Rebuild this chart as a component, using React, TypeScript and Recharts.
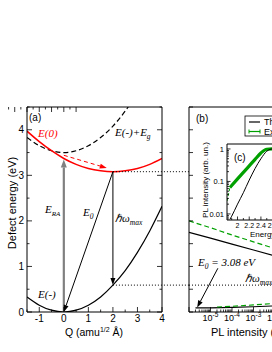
import React from 'react';
import { LineChart, Line, XAxis, YAxis, ReferenceLine } from 'recharts';

// (a) configuration coordinate diagram
const qValues = [-1.5, -1, -0.5, 0, 0.5, 1, 1.5, 2, 2.5, 3, 3.5, 4];
const groundCurve = [0.33, 0.15, 0.04, 0, 0.04, 0.15, 0.33, 0.59, 0.91, 1.31, 1.78, 2.32];
const excitedCurve = [3.97, 3.74, 3.54, 3.37, 3.24, 3.15, 3.1, 3.08, 3.1, 3.15, 3.24, 3.37];
const gapCurve = [3.83, 3.65, 3.54, 3.5, 3.54, 3.65, 3.83, 4.08, 4.41, 4.81, 5.28, 5.82];
const qTicks = [-1.5, -1, -0.5, 0, 0.5, 1, 1.5, 2, 2.5, 3, 3.5, 4];
const energyTicks = [0, 0.5, 1, 1.5, 2, 2.5, 3, 3.5, 4, 4.5];

const qShift = 2;
const e0 = 3.08;
const hwMax = 0.59;
const eRaTop = 3.35;
const relaxFrom = { q: 0, e: 3.44 };
const relaxTo = { q: 1.75, e: 3.16 };
const gapEdgeQ = 5.1; // where the dotted guides meet panel (b)

// (b) energy vs PL intensity
const plUpper = [1e-6, 1e-5, 1e-4, 1e-3, 1e-2, 1e-1, 1];
const theoryUpper = [1.75, 1.62, 1.49, 1.36, 1.23, 1.1, 0.97];
const expUpper = [2.0, 1.85, 1.69, 1.54, 1.39, 1.23, 1.07];
const plTheoryLower = [2e-6, 1e-5, 1e-4, 1e-3, 1e-2, 1e-1, 1];
const theoryLower = [0.09, 0.09, 0.1, 0.115, 0.135, 0.16, 0.19];
const plExpLower = [2e-5, 1e-4, 1e-3, 1e-2, 1e-1, 1];
const expLower = [0.11, 0.125, 0.155, 0.19, 0.23, 0.28];
const e0ArrowFrom = { pl: 2.2e-5, e: 0.96 };
const e0ArrowTo = { pl: 2.4e-6, e: 0.1 };

// (c) inset spectra
const insetTheoryE = [1.87, 1.9, 2.0, 2.1, 2.2, 2.3, 2.4, 2.5, 2.6, 2.7];
const insetTheory = [0.0068, 0.0085, 0.02, 0.045, 0.11, 0.25, 0.5, 0.85, 1.0, 0.95];
const insetExpE = [1.87, 1.9, 2.0, 2.1, 2.2, 2.3, 2.4, 2.5, 2.6, 2.7];
const insetExp = [0.065, 0.075, 0.12, 0.19, 0.3, 0.48, 0.75, 0.98, 1.0, 0.9];
const insetTailE = [1.82, 1.87];
const insetTail = [0.025, 0.065];
const insetETicks = [1.9, 2.0, 2.1, 2.2, 2.3, 2.4, 2.5, 2.6, 2.7, 2.8, 2.9];

const SANS = 'Liberation Sans, Arial, sans-serif';
const SERIF = 'Liberation Serif, Times New Roman, serif';
const GREEN = '#00a000';

const curveData = qValues.map((q, i) => ({ q, lo: groundCurve[i], hi: excitedCurve[i], gap: gapCurve[i] }));
const toPts = (xs: number[], ys: number[], k: string) => xs.map((x, i) => ({ [k]: x, e: ys[i] }));

const logTicks = (from: number, to: number, lo: number, hi: number) => {
  const t: number[] = [];
  for (let d = from; d < to; d++) for (let m = 1; m < 10; m++) t.push(m * Math.pow(10, d));
  t.push(Math.pow(10, to));
  return t.filter((v) => v >= lo * 0.999 && v <= hi * 1.001);
};
const isPow10 = (v: number) => Math.abs(Math.log10(v) - Math.round(Math.log10(v))) < 1e-6;
const isInt = (v: number) => Math.abs(v - Math.round(v)) < 1e-6;

type Side = 'bottom' | 'left' | 'top' | 'right';
const frameTick = (side: Side, isMajor: (v: number) => boolean, label?: (v: number) => React.ReactNode, size = 9.5, major = 5, minor = 2.5) =>
  (props: any) => {
    const { x, y, payload } = props;
    const v = payload.value as number;
    const len = isMajor(v) ? major : minor;
    const end: Record<Side, number[]> = { bottom: [x, y - len], top: [x, y + len], left: [x + len, y], right: [x - len, y] };
    const text = label && isMajor(v) ? label(v) : null;
    return (
      <g>
        <line x1={x} y1={y} x2={end[side][0]} y2={end[side][1]} stroke="#000" strokeWidth={0.8} />
        {text !== null && side === 'bottom' && (
          <text x={x} y={y + 3} dy="0.71em" textAnchor="middle" fontSize={size} fontFamily={SANS} fill="#000">{text}</text>
        )}
        {text !== null && side === 'left' && (
          <text x={x - 3} y={y} dy="0.35em" textAnchor="end" fontSize={size} fontFamily={SANS} fill="#000">{text}</text>
        )}
      </g>
    );
  };

const powLabel = (v: number) => {
  const p = Math.round(Math.log10(v));
  if (p === 0) return '1';
  return (
    <>
      10<tspan dy={-4} fontSize={6.5}>{p}</tspan>
    </>
  );
};

const arrow = (color: string, width: number, dash?: string, head = 7, half = 2.5) => (p: any) => {
  const x1 = Number(p.x1), y1 = Number(p.y1), x2 = Number(p.x2), y2 = Number(p.y2);
  const len = Math.hypot(x2 - x1, y2 - y1) || 1;
  const ux = (x2 - x1) / len, uy = (y2 - y1) / len;
  const bx = x2 - ux * head, by = y2 - uy * head;
  const pts = `${x2},${y2} ${bx - uy * half},${by + ux * half} ${bx + uy * half},${by - ux * half}`;
  return (
    <g>
      <line x1={x1} y1={y1} x2={bx} y2={by} stroke={color} strokeWidth={width} strokeDasharray={dash} />
      <polygon points={pts} fill={color} />
    </g>
  );
};

const dotted = (p: any) => (
  <line x1={p.x1} y1={p.y1} x2={p.x2} y2={p.y2} stroke="#000" strokeWidth={1} strokeDasharray="1 2" />
);

const axisLine = { stroke: '#000', strokeWidth: 1 };

const PanelA = () => (
  <LineChart width={190} height={262} data={curveData} margin={{ top: 16, right: 27, bottom: 0, left: 0 }}>
    <XAxis xAxisId="b" dataKey="q" type="number" domain={[-1.5, 4]} ticks={qTicks} interval={0} allowDataOverflow
      height={40} tickSize={0} tickMargin={0} tickLine={false} axisLine={axisLine}
      tick={frameTick('bottom', isInt, (v) => String(v), 10)} />
    <XAxis xAxisId="t" orientation="top" type="number" domain={[-1.5, 4]} ticks={qTicks} interval={0} allowDataOverflow
      height={1} tickSize={0} tickMargin={0} tickLine={false} axisLine={axisLine} tick={frameTick('top', isInt)} />
    <YAxis yAxisId="l" type="number" domain={[0, 4.5]} ticks={energyTicks} interval={0} allowDataOverflow
      width={27} tickSize={0} tickMargin={0} tickLine={false} axisLine={axisLine}
      tick={frameTick('left', isInt, (v) => String(v), 10)} />
    <YAxis yAxisId="r" orientation="right" type="number" domain={[0, 4.5]} ticks={energyTicks} interval={0} allowDataOverflow
      width={1} tickSize={0} tickMargin={0} tickLine={false} axisLine={axisLine} tick={frameTick('right', isInt)} />
    <Line xAxisId="b" yAxisId="l" dataKey="lo" type="natural" stroke="#000" strokeWidth={1.2} dot={false} isAnimationActive={false} />
    <Line xAxisId="b" yAxisId="l" dataKey="gap" type="natural" stroke="#000" strokeWidth={1.2} strokeDasharray="5 3" dot={false} isAnimationActive={false} />
    <Line xAxisId="b" yAxisId="l" dataKey="hi" type="natural" stroke="#ff0000" strokeWidth={1.5} dot={false} isAnimationActive={false} />
    <ReferenceLine xAxisId="b" yAxisId="l" ifOverflow="visible" segment={[{ x: qShift, y: e0 }, { x: gapEdgeQ, y: e0 }]} shape={dotted} />
    <ReferenceLine xAxisId="b" yAxisId="l" ifOverflow="visible" segment={[{ x: qShift, y: hwMax }, { x: gapEdgeQ, y: hwMax }]} shape={dotted} />
    <ReferenceLine xAxisId="b" yAxisId="l" segment={[{ x: 0, y: 0 }, { x: 0, y: eRaTop }]} shape={arrow('#808080', 2.2, undefined, 8, 3)} />
    <ReferenceLine xAxisId="b" yAxisId="l" segment={[{ x: qShift, y: e0 }, { x: 0, y: 0 }]} shape={arrow('#000', 1)} />
    <ReferenceLine xAxisId="b" yAxisId="l" segment={[{ x: qShift, y: e0 }, { x: qShift, y: hwMax }]} shape={arrow('#000', 1)} />
    <ReferenceLine xAxisId="b" yAxisId="l" segment={[{ x: relaxFrom.q, y: relaxFrom.e }, { x: relaxTo.q, y: relaxTo.e }]} shape={arrow('#ff0000', 1, '4 3')} />
  </LineChart>
);

const plTicks = logTicks(-6, 0, 1e-6, 1);

const PanelB = () => (
  <LineChart width={170} height={262} margin={{ top: 16, right: 11, bottom: 0, left: 0 }}>
    <XAxis xAxisId="b" dataKey="pl" type="number" scale="log" domain={[1e-6, 1]} ticks={plTicks} interval={0} allowDataOverflow
      height={40} tickSize={0} tickMargin={0} tickLine={false} axisLine={axisLine}
      tick={frameTick('bottom', isPow10, (v) => (v > 1.5e-6 ? powLabel(v) : null), 9)} />
    <XAxis xAxisId="t" orientation="top" type="number" scale="log" domain={[1e-6, 1]} ticks={plTicks} interval={0} allowDataOverflow
      height={1} tickSize={0} tickMargin={0} tickLine={false} axisLine={axisLine} tick={frameTick('top', isPow10)} />
    <YAxis yAxisId="l" type="number" domain={[0, 4.5]} ticks={energyTicks} interval={0} allowDataOverflow
      width={29} tickSize={0} tickMargin={0} tickLine={false} axisLine={axisLine} tick={frameTick('left', () => true, undefined, 9, 4)} />
    <YAxis yAxisId="r" orientation="right" type="number" domain={[0, 4.5]} ticks={energyTicks} interval={0} allowDataOverflow
      width={1} tickSize={0} tickMargin={0} tickLine={false} axisLine={axisLine} tick={frameTick('right', () => true, undefined, 9, 4)} />
    <ReferenceLine xAxisId="b" yAxisId="l" y={hwMax} shape={dotted} />
    <Line xAxisId="b" yAxisId="l" data={toPts(plUpper, theoryUpper, 'pl')} dataKey="e" stroke="#000" strokeWidth={1.2} dot={false} isAnimationActive={false} />
    <Line xAxisId="b" yAxisId="l" data={toPts(plUpper, expUpper, 'pl')} dataKey="e" stroke={GREEN} strokeWidth={1.2} strokeDasharray="5 3" dot={false} isAnimationActive={false} />
    <Line xAxisId="b" yAxisId="l" data={toPts(plTheoryLower, theoryLower, 'pl')} dataKey="e" stroke="#000" strokeWidth={1.2} dot={false} isAnimationActive={false} />
    <Line xAxisId="b" yAxisId="l" data={toPts(plExpLower, expLower, 'pl')} dataKey="e" stroke={GREEN} strokeWidth={1.2} strokeDasharray="5 3" dot={false} isAnimationActive={false} />
    <ReferenceLine xAxisId="b" yAxisId="l" segment={[{ x: e0ArrowFrom.pl, y: e0ArrowFrom.e }, { x: e0ArrowTo.pl, y: e0ArrowTo.e }]} shape={arrow('#000', 1)} />
  </LineChart>
);

const insetYTicks = logTicks(-3, 0, 0.0065, 1.42);
const decLabel = (v: number) => (v >= 1 ? '1' : v >= 0.1 ? '0.1' : '0.01');
const isEMajor = (v: number) => Math.abs(v * 5 - Math.round(v * 5)) < 1e-6;

const InsetC = () => (
  <LineChart width={110} height={105} margin={{ top: 4, right: 14, bottom: 0, left: 0 }}>
    <XAxis xAxisId="b" dataKey="en" type="number" domain={[1.82, 3.0]} ticks={insetETicks} interval={0} allowDataOverflow
      height={24} tickSize={0} tickMargin={0} tickLine={false} axisLine={axisLine}
      tick={frameTick('bottom', isEMajor, (v) => (isInt(v) ? String(v) : v.toFixed(1)), 7, 3.5, 2)} />
    <XAxis xAxisId="t" orientation="top" type="number" domain={[1.82, 3.0]} ticks={insetETicks} interval={0} allowDataOverflow
      height={1} tickSize={0} tickMargin={0} tickLine={false} axisLine={axisLine} tick={frameTick('top', isEMajor, undefined, 7, 3.5, 2)} />
    <YAxis yAxisId="l" type="number" scale="log" domain={[0.0065, 1.42]} ticks={insetYTicks} interval={0} allowDataOverflow
      width={27} tickSize={0} tickMargin={0} tickLine={false} axisLine={axisLine}
      tick={frameTick('left', isPow10, decLabel, 7.5, 3.5, 2)} />
    <Line xAxisId="b" yAxisId="l" data={toPts(insetTailE, insetTail, 'en')} dataKey="e" stroke={GREEN} strokeWidth={1} strokeDasharray="3 2" dot={false} isAnimationActive={false} />
    <Line xAxisId="b" yAxisId="l" data={toPts(insetExpE, insetExp, 'en')} dataKey="e" type="monotone" stroke={GREEN} strokeWidth={3.2} dot={false} isAnimationActive={false} />
    <Line xAxisId="b" yAxisId="l" data={toPts(insetTheoryE, insetTheory, 'en')} dataKey="e" type="monotone" stroke="#000" strokeWidth={1} dot={false} isAnimationActive={false} />
  </LineChart>
);

const Sub = ({ children, size = 7.5 }: { children: React.ReactNode; size?: number }) => (
  <tspan dy={3} fontSize={size}>{children}</tspan>
);

export default function App() {
  const serif = { fontFamily: SERIF, fontStyle: 'italic' as const, fontSize: 11 };
  const sans = { fontFamily: SANS, fill: '#000' };
  return (
    <div style={{ position: 'absolute', left: 0, top: 0, width: 272, height: 352, overflow: 'hidden', background: '#fff' }}>
      <div style={{ position: 'absolute', left: 0, top: 90 }}><PanelA /></div>
      <div style={{ position: 'absolute', left: 160, top: 90 }}><PanelB /></div>
      <div style={{ position: 'absolute', left: 200, top: 139 }}><InsetC /></div>
      <svg width={272} height={352} style={{ position: 'absolute', left: 0, top: 0, pointerEvents: 'none' }}>
        <text {...sans} fontSize={11} x={16} y={203} textAnchor="middle" transform="rotate(-90 16 203)">Defect energy (eV)</text>
        <text {...sans} fontSize={10.5} x={94} y={336} textAnchor="middle">
          Q (amu<tspan dy={-4} fontSize={7}>1/2</tspan><tspan dy={4}> Å)</tspan>
        </text>
        <text {...sans} fontSize={11} x={211} y={336}>PL intensity (arb. un.)</text>
        <text {...sans} fontSize={10} x={29} y={121}>(a)</text>
        <text {...sans} fontSize={10} x={196} y={122}>(b)</text>
        <text {...sans} fontSize={10} x={234} y={161}>(c)</text>

        <text {...serif} fill="#ff0000" x={38} y={137}>E(0)</text>
        <text {...serif} x={115} y={136}>E(-)+E<Sub>g</Sub></text>
        <text {...serif} x={45} y={213}>E<Sub size={7}>RA</Sub></text>
        <text {...serif} x={83} y={216}>E<Sub>0</Sub></text>
        <text {...serif} x={115} y={222}>ℏω<Sub>max</Sub></text>
        <text {...serif} x={38} y={298}>E(-)</text>
        <text {...serif} x={198} y={266}>E<Sub>0</Sub><tspan dy={-3}> = 3.08 eV</tspan></text>
        <text {...serif} x={245} y={282}>ℏω<Sub>max</Sub><tspan dy={-3}> =</tspan></text>

        <text {...sans} fontSize={8} x={208} y={180} textAnchor="middle" transform="rotate(-90 208 180)">PL intensity (arb. un.)</text>
        <text {...sans} fontSize={8} x={250} y={237}>Energy (eV)</text>

        <rect x={245} y={116} width={80} height={20} fill="#fff" stroke="#000" strokeWidth={0.8} />
        <line x1={249} y1={122} x2={260} y2={122} stroke="#000" strokeWidth={1.2} />
        <text {...sans} fontSize={9} x={264} y={125}>Theory</text>
        <line x1={249} y1={131.5} x2={260} y2={131.5} stroke={GREEN} strokeWidth={1.2} />
        <line x1={249} y1={129.5} x2={249} y2={133.5} stroke={GREEN} strokeWidth={1} />
        <line x1={260} y1={129.5} x2={260} y2={133.5} stroke={GREEN} strokeWidth={1} />
        <text {...sans} fontSize={9} x={264} y={134.5}>Experiment</text>
      </svg>
    </div>
  );
}
